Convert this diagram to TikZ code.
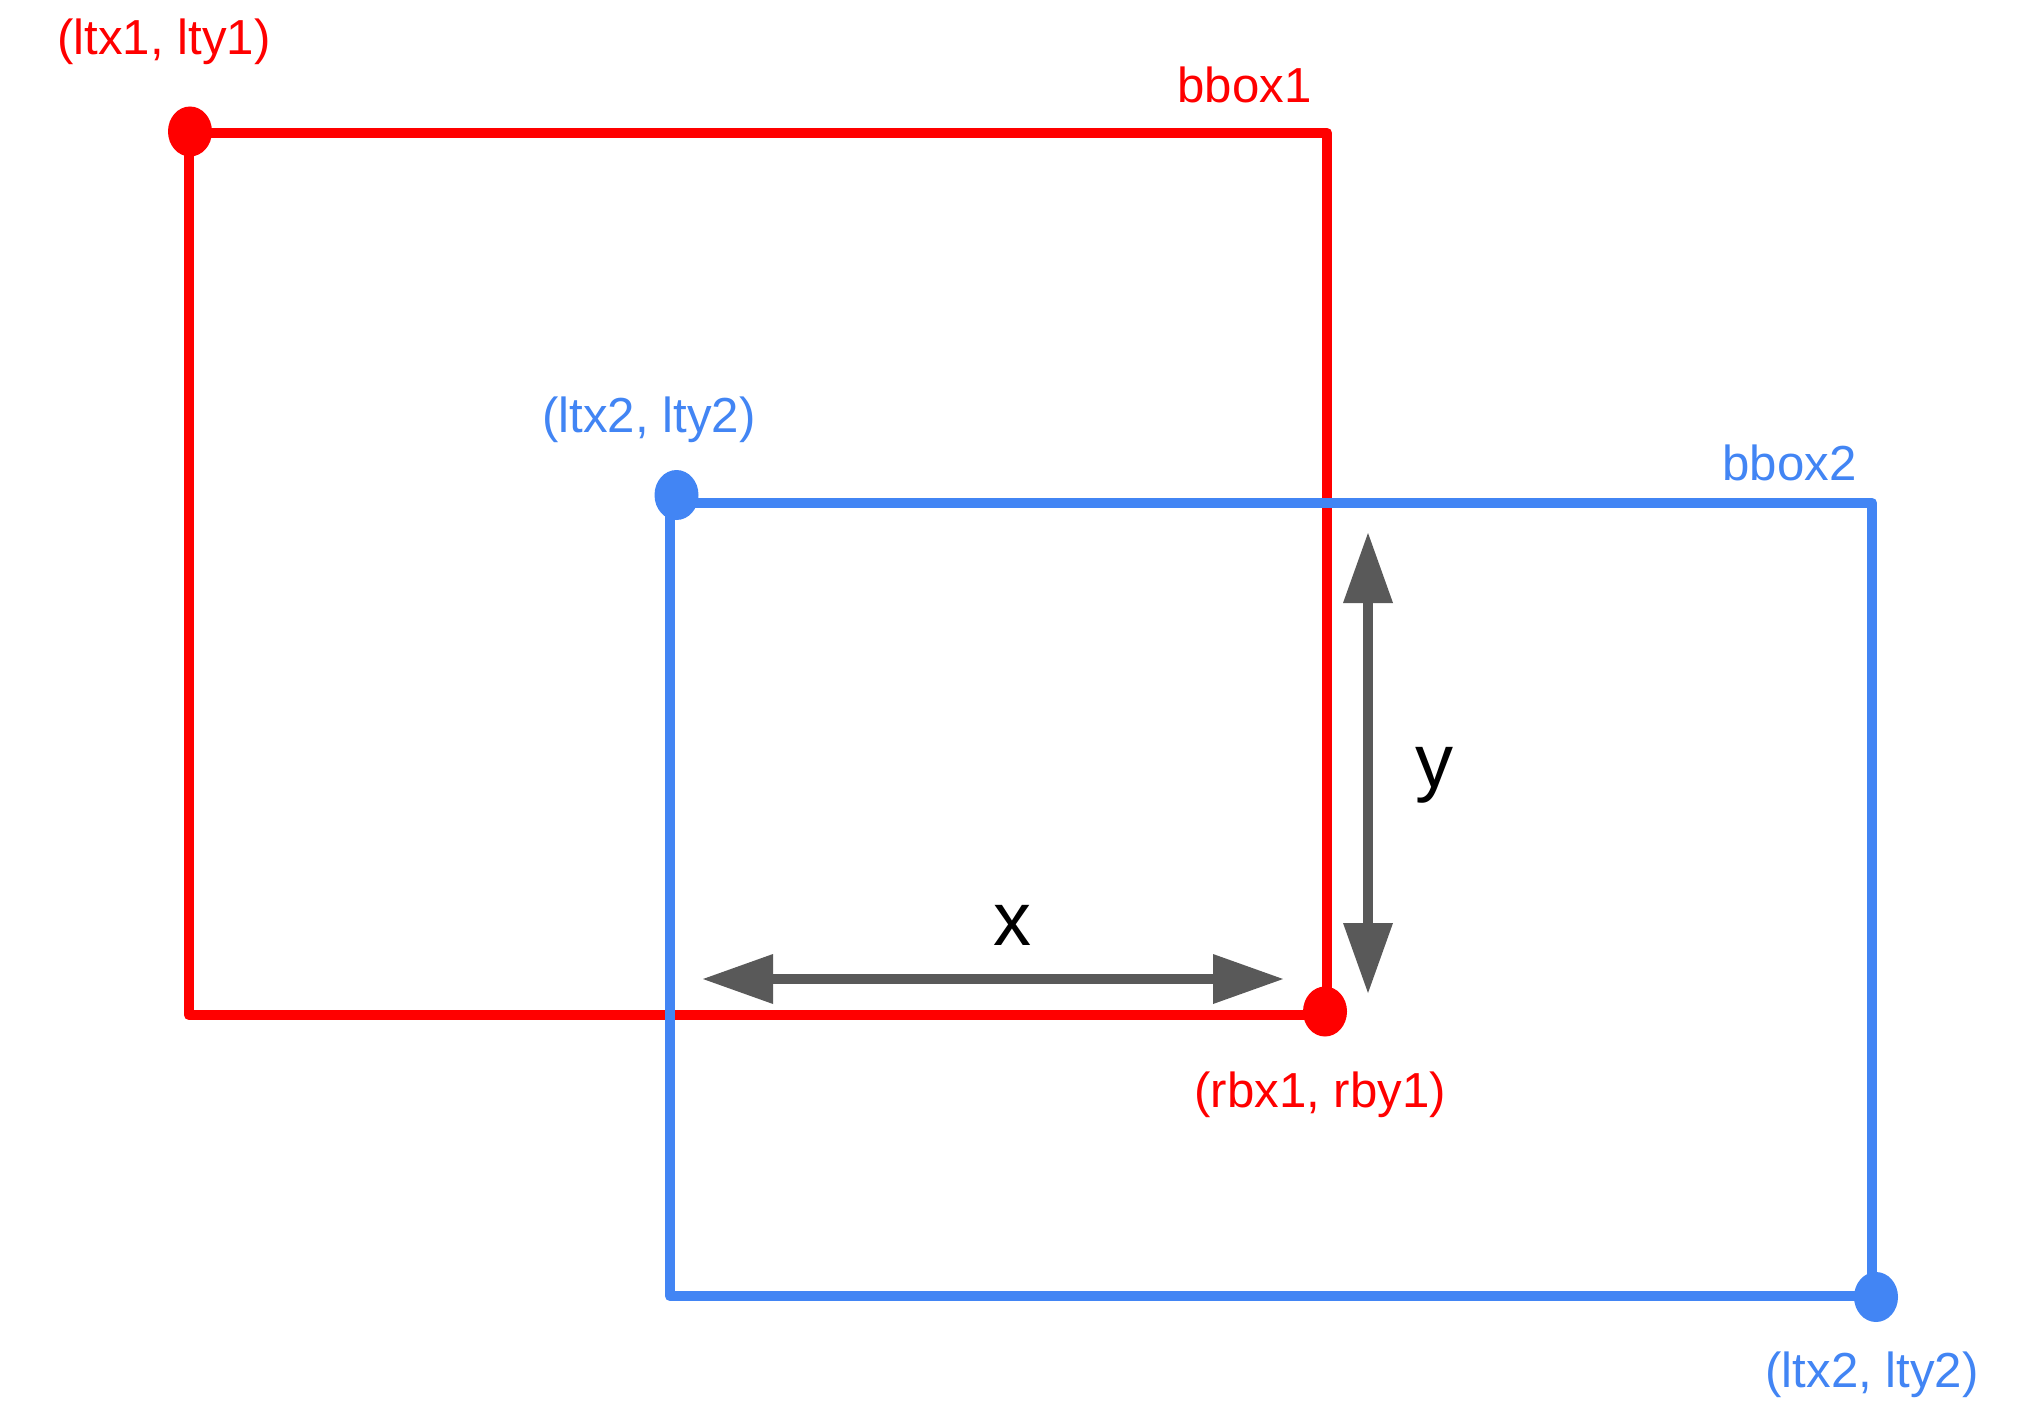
\documentclass[tikz,border=0pt]{standalone}
\usepackage{fontspec}
\setmainfont{Liberation Sans}
\usetikzlibrary{arrows.meta,shapes.geometric}
\definecolor{rboxc}{HTML}{FF0000}
\definecolor{bboxc}{HTML}{4285F4}
\definecolor{arrc}{HTML}{595959}
\begin{document}
\begin{tikzpicture}[x=0.5pt,y=-0.5pt,
  boxline/.style={line width=5.3pt,line join=round,line cap=round},
  dotnode/.style={ellipse,minimum width=22pt,minimum height=25pt,inner sep=0pt,fill},
  lbl/.style={inner sep=0pt,anchor=base west,font=\fontsize{24.6pt}{28pt}\selectfont},
  axlbl/.style={inner sep=0pt,anchor=base west,font=\fontsize{38pt}{44pt}\selectfont,text=black},
  dimarrow/.style={draw=arrc,line width=5pt,{Triangle[length=35pt,width=25pt,line width=0pt]}-{Triangle[length=35pt,width=25pt,line width=0pt]}, fill=arrc}
]
\path[use as bounding box] (0,0) rectangle (2043,1412);
% corners
\coordinate (r-tl) at (189,133);
\coordinate (r-tr) at (1327,133);
\coordinate (r-br) at (1327,1015);
\coordinate (r-bl) at (189,1015);
\coordinate (b-tl) at (670,503);
\coordinate (b-tr) at (1872,503);
\coordinate (b-br) at (1872,1296);
\coordinate (b-bl) at (670,1296);
% boxes
\draw[boxline,rboxc] (r-tl) -- (r-tr) -- (r-br) -- (r-bl) -- cycle;
\draw[boxline,bboxc] (b-tl) -- (b-tr) -- (b-br) -- (b-bl) -- cycle;
% dots
\node[dotnode,rboxc] (r1) at (190,131.5) {};
\node[dotnode,rboxc] (r2) at (1325,1011.5) {};
\node[dotnode,bboxc] (b1) at (676.5,495) {};
\node[dotnode,bboxc] (b2) at (1876,1297) {};
% labels
\node[lbl,text=rboxc] (lr1) at (57,55) {(ltx1, lty1)};
\node[lbl,text=rboxc] (lbb1) at (1177,103) {bbox1};
\node[lbl,text=bboxc] (lb1) at (542,432) {(ltx2, lty2)};
\node[lbl,text=bboxc] (lbb2) at (1722,480) {bbox2};
\node[lbl,text=rboxc] (lr2) at (1194,1107) {(rbx1, rby1)};
\node[lbl,text=bboxc] (lb2) at (1765,1387) {(ltx2, lty2)};
% dimension arrows
\coordinate (xa) at (703,979);
\coordinate (xb) at (1283,979);
\coordinate (ya) at (1368,533);
\coordinate (yb) at (1368,993);
\draw[dimarrow] (xa) -- (xb);
\draw[dimarrow] (ya) -- (yb);
\node[axlbl] (lx) at (993,945) {x};
\node[axlbl] (ly) at (1415,787) {y};
\end{tikzpicture}
\end{document}
